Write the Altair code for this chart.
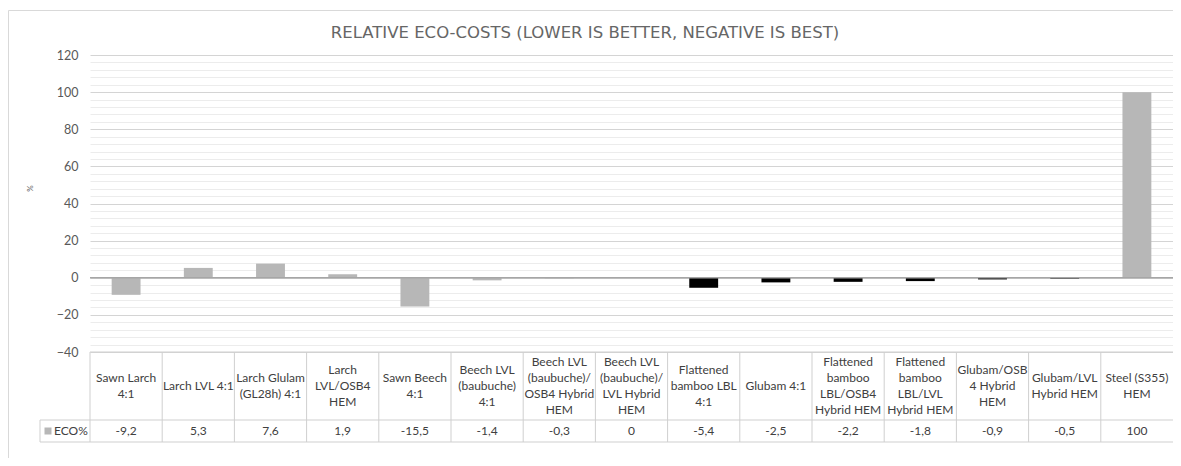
import altair as alt
import pandas as pd

# ---- data ----
category_labels = [
    "Sawn Larch\n4:1",
    "Larch LVL 4:1",
    "Larch Glulam\n(GL28h) 4:1",
    "Larch\nLVL/OSB4\nHEM",
    "Sawn Beech\n4:1",
    "Beech LVL\n(baubuche)\n4:1",
    "Beech LVL\n(baubuche)/\nOSB4 Hybrid\nHEM",
    "Beech LVL\n(baubuche)/\nLVL Hybrid\nHEM",
    "Flattened\nbamboo LBL\n4:1",
    "Glubam 4:1",
    "Flattened\nbamboo\nLBL/OSB4\nHybrid HEM",
    "Flattened\nbamboo\nLBL/LVL\nHybrid HEM",
    "Glubam/OSB\n4 Hybrid\nHEM",
    "Glubam/LVL\nHybrid HEM",
    "Steel (S355)\nHEM",
]
eco_values = [-9.2, 5.3, 7.6, 1.9, -15.5, -1.4, -0.3, 0, -5.4, -2.5, -2.2, -1.8, -0.9, -0.5, 100]
material_group = ["timber"] * 8 + ["bamboo"] * 6 + ["steel"]
series_name = "ECO%"
chart_title = "RELATIVE ECO-COSTS (LOWER IS BETTER, NEGATIVE IS BEST)"

names = [c.replace("\n", " ") for c in category_labels]
df = pd.DataFrame({
    "name": names,
    "label": category_labels,
    "nlines": [c.count("\n") + 1 for c in category_labels],
    "eco": eco_values,
    "group": material_group,
})
one = pd.DataFrame({"k": [0]})

W, H = 1083, 297
GRAY = "#b7b7b7"
TXT = "#404040"
LINE = "#cfcfcf"
LH = 16
CAT_MID = H + 34

x_enc = dict(field="name", type="nominal", sort=names,
             scale=alt.Scale(paddingInner=0, paddingOuter=0), axis=None)

y_axis = alt.Axis(
    values=list(range(-40, 121, 4)), tickCount=100,
    labelExpr="datum.value % 20 === 0 ? datum.label : ''",
    ticks=False, domain=False, grid=True,
    gridColor={"condition": {"test": "datum.value % 20 === 0", "value": "#d4d4d4"}, "value": "#ececec"},
    labelFont="Lato", labelFontSize=12.5, labelColor="#595959", labelPadding=12,
    labelOverlap=False, labelFlush=False,
    title="%", titleFont="Lato", titleFontSize=8, titleFontWeight="normal", titleColor="#595959",
    titleX=-60, titleY=133, titleBaseline="middle", titleAlign="center",
)

bars = alt.Chart(df).mark_bar(width=alt.RelativeBandSize(0.4)).encode(
    x=alt.X(**x_enc),
    y=alt.Y("eco:Q", scale=alt.Scale(domain=[-40, 120], nice=False, zero=False), axis=y_axis),
    color=alt.Color("group:N", scale=alt.Scale(domain=["timber", "bamboo", "steel"],
                                               range=[GRAY, "#000000", GRAY]), legend=None),
)

zero_line = alt.Chart(one).mark_rule(color="#a6a6a6", strokeWidth=1.5).encode(y=alt.datum(0))

col_lines = alt.Chart(df).mark_rule(color=LINE, strokeWidth=1).encode(
    x=alt.X(bandPosition=0, **x_enc),
    y=alt.value(H), y2=alt.value(H + 90),
)

hlines = [
    alt.Chart(one).mark_rule(color=LINE, strokeWidth=1).encode(
        x=alt.value(0), x2=alt.value(W), y=alt.value(H)),
    alt.Chart(one).mark_rule(color=LINE, strokeWidth=1).encode(
        x=alt.value(-50), x2=alt.value(W), y=alt.value(H + 68)),
    alt.Chart(one).mark_rule(color=LINE, strokeWidth=1).encode(
        x=alt.value(-50), x2=alt.value(W), y=alt.value(H + 90)),
    alt.Chart(one).mark_rule(color=LINE, strokeWidth=1).encode(
        x=alt.value(-50), y=alt.value(H + 68), y2=alt.value(H + 90)),
]

# category labels, one layer per line count so that each block is vertically centred
cat_layers = []
for n in sorted(set(df["nlines"])):
    cat_layers.append(
        alt.Chart(df).transform_filter(f"datum.nlines == {n}").mark_text(
            font="Lato", fontSize=12, lineHeight=LH, lineBreak="\n", color=TXT,
            align="center", baseline="middle",
        ).encode(x=alt.X(**x_enc), y=alt.value(CAT_MID - (n - 1) * LH / 2), text="label:N")
    )

val_text = alt.Chart(df).transform_calculate(
    vtxt="replace(toString(datum.eco), '.', ',')"
).mark_text(font="Lato", fontSize=12, color=TXT, align="center", baseline="middle").encode(
    x=alt.X(**x_enc), y=alt.value(H + 79), text="vtxt:N")

legend_sq = alt.Chart(one).mark_square(size=49, color=GRAY, opacity=1).encode(
    x=alt.value(-42), y=alt.value(H + 79))
legend_txt = alt.Chart(one).mark_text(font="Lato", fontSize=12, color=TXT, align="left",
                                      baseline="middle").encode(
    x=alt.value(-36), y=alt.value(H + 79), text=alt.value(series_name))

frame_top = alt.Chart(one).mark_rule(color="#d9d9d9", strokeWidth=1).encode(
    x=alt.value(-81.5), x2=alt.value(W), y=alt.value(-44.5))
frame_left = alt.Chart(one).mark_rule(color="#d9d9d9", strokeWidth=1).encode(
    x=alt.value(-81.5), y=alt.value(-44.5), y2=alt.value(H + 106))

title = alt.Chart(one).mark_text(font="DejaVu Sans", fontSize=16.5, color="#666666",
                                 align="center", baseline="middle").encode(
    x=alt.value(495), y=alt.value(-22), text=alt.value(chart_title))

chart = alt.layer(
    frame_top, frame_left, bars, zero_line, col_lines, *hlines,
    *cat_layers, val_text, legend_sq, legend_txt, title,
).properties(
    width=W, height=H,
    padding={"left": 82, "top": 47, "right": 0, "bottom": 106},
    autosize=alt.AutoSizeParams(type="none"),
).configure_view(stroke=None)

chart.save("out.html", embed_options={"renderer": "svg", "actions": False})
